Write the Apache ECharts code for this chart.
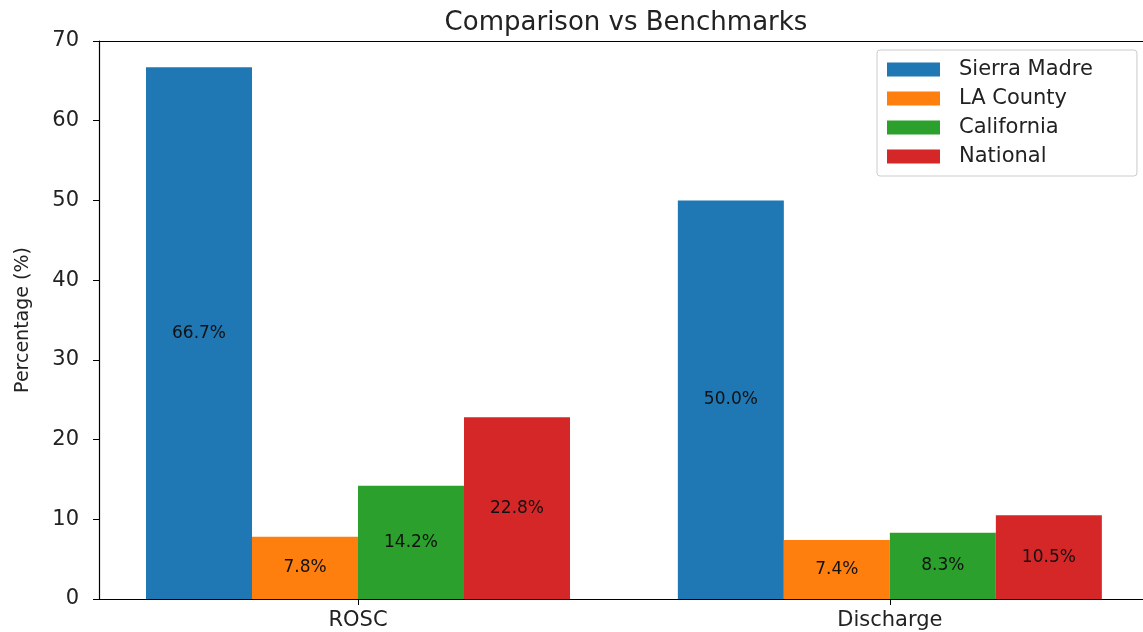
<!DOCTYPE html>
<html>
<head>
<meta charset="utf-8">
<script src="https://cdn.jsdelivr.net/npm/echarts@6/dist/echarts.min.js"></script>
<style>
  html, body { margin: 0; padding: 0; background: #fff; }
  #chart { width: 1143px; height: 632px; }
</style>
</head>
<body>
<div id="chart"></div>
<script>
const categories = ['ROSC', 'Discharge'];
const seriesNames = ['Sierra Madre', 'LA County', 'California', 'National'];
const sierraMadre = [66.7, 50.0];
const laCounty = [7.8, 7.4];
const california = [14.2, 8.3];
const national = [22.8, 10.5];
const yTicks = [0, 10, 20, 30, 40, 50, 60, 70];
const colors = ['#1f77b4', '#ff7f0e', '#2ca02c', '#d62728'];

const font = 'DejaVu Sans, sans-serif';
const chart = echarts.init(document.getElementById('chart'));

// bars sit at category positions 0, 1 on a numeric x axis (matplotlib-like xlim)
const positions = categories.map((c, i) => i);
const xMin = -0.487;
const xMax = 1.476;

const makeSeries = (name, values, color) => ({
    name: name,
    type: 'bar',
    data: values.map((v, i) => [positions[i], v]),
    barWidth: 106,
    barGap: '0%',
    itemStyle: { color: color },
    label: {
        show: true,
        position: 'inside',
        color: '#111',
        fontFamily: font,
        fontSize: 17,
        formatter: (p) => p.value[1].toFixed(1) + '%',
    },
});

const option = {
    animation: false,
    backgroundColor: '#fff',
    title: {
        text: 'Comparison vs Benchmarks',
        left: 621,
        textAlign: 'center',
        top: 5,
        textStyle: { fontFamily: font, fontSize: 26, fontWeight: 'normal', color: '#222' },
    },
    legend: {
        orient: 'vertical',
        left: 877,
        top: 50,
        padding: [9, 44, 9, 10],
        itemWidth: 53,
        itemHeight: 14,
        itemGap: 8,
        icon: 'rect',
        borderColor: '#ccc',
        borderWidth: 1,
        borderRadius: 3,
        data: seriesNames,
        textStyle: { fontFamily: font, fontSize: 21, color: '#222', padding: [0, 0, 0, 14] },
    },
    grid: { left: 99, right: 0, top: 41, bottom: 33 },
    xAxis: [
        {
            type: 'value',
            min: xMin,
            max: xMax,
            splitLine: { show: false },
            axisLine: { onZero: false, lineStyle: { color: '#000', width: 1.2 } },
            axisTick: { customValues: positions, length: 6, lineStyle: { color: '#000' } },
            axisLabel: {
                customValues: positions,
                formatter: (v) => categories[Math.round(v)],
                fontFamily: font,
                fontSize: 21,
                color: '#222',
                margin: 11,
            },
        },
        {
            type: 'value',
            min: xMin,
            max: xMax,
            position: 'top',
            splitLine: { show: false },
            axisLine: { show: true, onZero: false, lineStyle: { color: '#000', width: 1.2 } },
            axisTick: { show: false },
            axisLabel: { show: false },
        },
    ],
    yAxis: {
        type: 'value',
        min: 0,
        max: yTicks[yTicks.length - 1],
        interval: 10,
        name: 'Percentage (%)',
        nameLocation: 'middle',
        nameGap: 66,
        nameTextStyle: { fontFamily: font, fontSize: 19, color: '#222' },
        axisLine: { show: true, onZero: false, lineStyle: { color: '#000', width: 1.2 } },
        axisTick: { show: true, length: 6, lineStyle: { color: '#000' } },
        axisLabel: { fontFamily: font, fontSize: 21, color: '#222', margin: 20 },
        splitLine: { show: false },
    },
    series: [
        makeSeries(seriesNames[0], sierraMadre, colors[0]),
        makeSeries(seriesNames[1], laCounty, colors[1]),
        makeSeries(seriesNames[2], california, colors[2]),
        makeSeries(seriesNames[3], national, colors[3]),
    ],
};

chart.setOption(option);
</script>
</body>
</html>
